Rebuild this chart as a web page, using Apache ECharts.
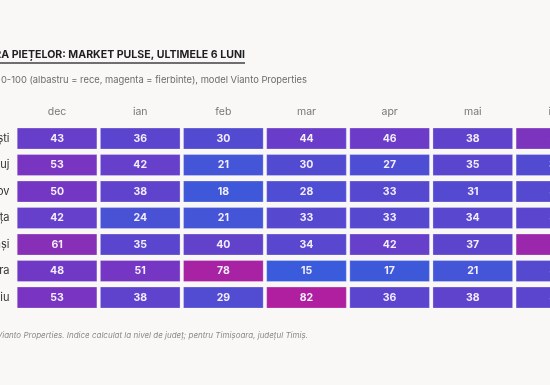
<!DOCTYPE html>
<html>
<head>
<meta charset="utf-8">
<script src="https://cdn.jsdelivr.net/npm/echarts@6/dist/echarts.min.js"></script>
<style>
  html, body { margin: 0; padding: 0; background: #f9f8f6; }
  #chart { width: 550px; height: 385px; }
</style>
</head>
<body>
<div id="chart"></div>
<script>
const months = ['dec', 'ian', 'feb', 'mar', 'apr', 'mai', 'iun'];
const cities = ['București', 'Cluj', 'Brașov', 'Constanța', 'Iași', 'Timișoara', 'Sibiu'];

// market pulse score per city, dec..iun
const bucuresti = [43, 36, 30, 44, 46, 38, 55];
const cluj      = [53, 42, 21, 30, 27, 35, 30];
const brasov    = [50, 38, 18, 28, 33, 31, 32];
const constanta = [42, 24, 21, 33, 33, 34, 36];
const iasi      = [61, 35, 40, 34, 42, 37, 71];
const timisoara = [48, 51, 78, 15, 17, 21, 32];
const sibiu     = [53, 38, 29, 82, 36, 38, 36];

const rows = [bucuresti, cluj, brasov, constanta, iasi, timisoara, sibiu];

const titleText = 'TEMPERATURA PIEȚELOR: MARKET PULSE, ULTIMELE 6 LUNI';
const subText = 'Scor compozit 0-100 (albastru = rece, magenta = fierbinte), model Vianto Properties';
const noteText = 'Sursa: date interne și analiză VIA Vianto Properties. Indice calculat la nivel de județ; pentru Timișoara, județul Timiș.';

const cells = [];
rows.forEach((vals, r) => vals.forEach((v, c) => cells.push([c, r, v])));

const FONT = 'Inter, "Noto Sans", sans-serif';

const inst = echarts.init(document.getElementById('chart'), undefined, { renderer: 'canvas' });

inst.setOption({
  backgroundColor: '#f9f8f6',
  animation: false,
  graphic: [
    {
      type: 'text', x: 245, y: 49,
      style: { text: titleText, textAlign: 'right', fill: '#1f1f22', font: 'bold 10.6px ' + FONT }
    },
    {
      type: 'rect', shape: { x: 0, y: 62, width: 245, height: 2 },
      style: { fill: '#6f6f6f' }
    },
    {
      type: 'text', x: 307, y: 76,
      style: { text: subText, textAlign: 'right', fill: '#6b6b6b', font: '9.4px ' + FONT }
    },
    {
      type: 'text', x: 308, y: 332,
      style: { text: noteText, textAlign: 'right', fill: '#8a8a8a', font: 'italic 8px ' + FONT }
    }
  ],
  grid: { left: 15.5, top: 125.3, width: 582, height: 185.5, containLabel: false, outerBoundsMode: 'none' },
  xAxis: {
    type: 'category',
    position: 'top',
    data: months,
    axisLine: { show: false },
    axisTick: { show: false },
    splitLine: { show: false },
    axisLabel: { color: '#777', fontSize: 10.5, fontFamily: FONT, margin: 8 }
  },
  yAxis: {
    type: 'category',
    inverse: true,
    data: cities,
    axisLine: { show: false },
    axisTick: { show: false },
    splitLine: { show: false },
    axisLabel: { color: '#333', fontSize: 11, fontFamily: FONT, margin: 6 }
  },
  visualMap: {
    show: false,
    min: 15,
    max: 82,
    dimension: 2,
    inRange: { color: ['#3a5bdb', '#7038c6', '#b01f9f'] }
  },
  series: [{
    type: 'custom',
    data: cells,
    encode: { x: 0, y: 1 },
    renderItem: (params, api) => {
      const center = api.coord([api.value(0), api.value(1)]);
      const size = api.size([1, 1]);
      const w = size[0] - 3.5;
      const h = size[1] - 5.5;
      return {
        type: 'group',
        children: [
          {
            type: 'rect',
            shape: { x: center[0] - w / 2, y: center[1] - h / 2, width: w, height: h },
            style: { fill: api.visual('color'), stroke: 'rgba(255,255,255,0.25)', lineWidth: 1 }
          },
          {
            type: 'text',
            x: center[0], y: center[1],
            style: {
              text: String(api.value(2)),
              textAlign: 'center', textVerticalAlign: 'middle',
              fill: '#f3eefc', font: 'bold 10.5px ' + FONT
            }
          }
        ]
      };
    }
  }]
});
</script>
</body>
</html>
